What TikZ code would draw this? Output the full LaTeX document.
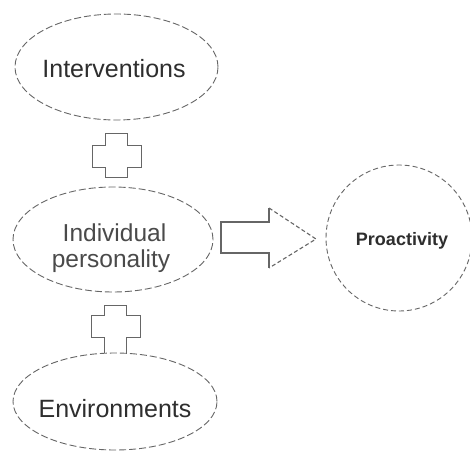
\documentclass[tikz,border=0pt]{standalone}
\usepackage{fontspec}
\setmainfont{Liberation Sans}
\usetikzlibrary{shapes.geometric}
\definecolor{linegray}{HTML}{666666}
\definecolor{textdark}{HTML}{2E2E2E}
\definecolor{textmid}{HTML}{4A4A4A}
\begin{document}
\begin{tikzpicture}[x=1pt,y=-1pt,
  oval/.style={draw=linegray, dash pattern=on 7pt off 3pt, line width=0.9pt, ellipse, inner sep=0pt},
  roundish/.style={draw=linegray, dash pattern=on 5pt off 3pt, line width=0.9pt, circle, inner sep=0pt},
  plusshape/.style={draw=linegray, line width=0.9pt},
  shaftline/.style={draw=linegray, line width=1.3pt},
  headline/.style={draw=linegray, line width=1.1pt, dash pattern=on 4pt off 2.5pt},
  bigtext/.style={anchor=base, text=textdark, font=\fontsize{25}{28}\selectfont},
  midtext/.style={anchor=base, text=textmid, font=\fontsize{24.5}{27}\selectfont},
  boldtext/.style={anchor=base, text=textdark, font=\fontsize{18}{20}\selectfont\bfseries}
]
\useasboundingbox (0,0) rectangle (470,454);
\fill[white] (0,0) rectangle (470,454);

% ellipses
\node[oval, minimum width=203pt, minimum height=106pt] (interv) at (116.5,67) {};
\node[oval, minimum width=200pt, minimum height=105pt] (indiv) at (113,239.5) {};
\node[oval, minimum width=204pt, minimum height=97pt] (envir) at (115,401.5) {};
\node[roundish, minimum size=146pt] (proact) at (399,238) {};

% texts
\node[bigtext] (tinterv) at (114,78) {Interventions};
\node[midtext] (tindiv1) at (114.5,241) {Individual};
\node[midtext] (tindiv2) at (111,267) {personality};
\node[bigtext] (tenvir) at (115,417) {Environments};
\node[boldtext] (tproact) at (402,245) {Proactivity};

% plus signs
\draw[plusshape] (105,133) -- (127,133) -- (127,145) -- (141,145) -- (141,167) -- (127,167)
  -- (127,177) -- (105,177) -- (105,167) -- (92,167) -- (92,145) -- (105,145) -- cycle;
\draw[plusshape] (104,353) -- (104,337) -- (91,337) -- (91,315) -- (104,315) -- (104,305)
  -- (126,305) -- (126,315) -- (140,315) -- (140,337) -- (126,337) -- (126,353);

% block arrow
\draw[shaftline] (269,208) -- (269,222) -- (221,222) -- (221,253) -- (269,253) -- (269,268);
\draw[headline] (269,208) -- (316,239) -- (269,268);
\end{tikzpicture}
\end{document}
